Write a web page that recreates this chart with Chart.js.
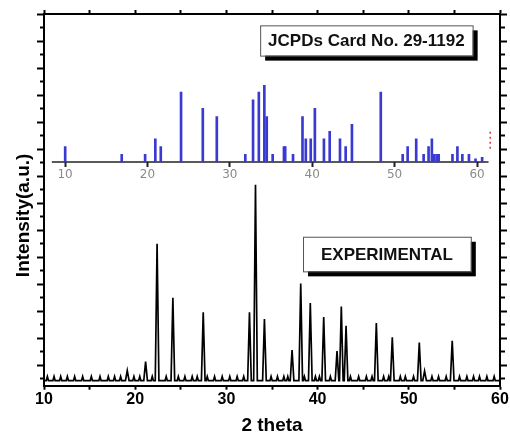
<!DOCTYPE html>
<html>
<head>
<meta charset="utf-8">
<script src="https://cdn.jsdelivr.net/npm/chart.js@4.4.1/dist/chart.umd.min.js"></script>
<style>
  body { margin: 0; background: #fff; }
</style>
</head>
<body>
<canvas id="xrd" width="510" height="434"></canvas>
<script>
// experimental pattern: peak positions (2 theta) and peak tops (a.u.)
const expPeakPos = [19.13, 21.14, 22.40, 24.13, 27.46, 32.53, 33.19, 34.17, 37.20, 38.15,
  39.20, 40.67, 42.13, 42.60, 43.12, 46.44, 48.19, 51.15, 51.73, 54.76];
const expPeakHeight = [5.6, 8.9, 52.5, 32.5, 27.2, 27.2, 74.3, 24.7, 13.2, 37.8,
  30.6, 25.4, 12.8, 29.3, 22.2, 23.2, 17.9, 16.0, 5.4, 16.6];
// little spikes sitting on the baseline
const noisePos = [10.37, 11.10, 11.83, 12.56, 13.36, 14.24, 15.19, 16.14, 17.05, 17.74,
  18.40, 19.86, 20.50, 21.87, 23.40, 24.73, 25.45, 26.25, 26.80, 27.90, 28.70, 29.54,
  30.37, 31.18, 31.90, 34.90, 35.60, 36.30, 36.73, 38.55, 39.76, 40.20, 41.40, 43.60,
  44.50, 45.35, 45.97, 47.24, 47.80, 49.07, 49.62, 50.52, 52.54, 53.26, 54.10, 55.56,
  56.37, 57.10, 57.75, 58.56, 59.36];
const noiseHeight = 3.4;
const baseLevel = 1.9;

// JCPDS card 29-1192 lines (2 theta, relative intensity %)
const cardPos = [9.90, 16.76, 19.60, 20.84, 21.50, 23.96, 26.60, 28.30, 31.76, 32.70,
  33.40, 34.07, 34.36, 35.08, 36.45, 36.60, 37.55, 38.70, 39.10, 39.70, 40.20, 41.30,
  42.00, 43.25, 43.94, 44.70, 48.20, 50.86, 51.46, 52.50, 53.40, 54.00, 54.40, 54.70,
  55.00, 55.23, 56.90, 57.50, 58.10, 58.90, 59.70, 60.50];
const cardIntensity = [20, 10, 10, 30, 20, 91, 70, 59, 10, 81,
  91, 100, 59, 10, 20, 20, 10, 59, 30, 30, 70, 30,
  40, 30, 20, 49, 91, 10, 20, 30, 10, 20, 30, 10,
  10, 10, 10, 20, 10, 10, 4, 6];
const cardAxisRange = [8.4, 61.4];
const redMarkPos = 61.6;
const redMarkRange = [17, 42];

const cardLabel = 'JCPDs Card No. 29-1192';
const expLabel = 'EXPERIMENTAL';
const xTitle = '2 theta';
const yTitle = 'Intensity(a.u.)';

const FONT = '"Liberation Sans", Arial, sans-serif';

// peak profile: narrow triangle on the baseline
const features = expPeakPos.map((x, i) => ({x: x, h: expPeakHeight[i], w: 0.2}))
  .concat(noisePos.map(x => ({x: x, h: noiseHeight, w: 0.12})))
  .sort((a, b) => a.x - b.x);
const expPoints = [{x: 10, y: baseLevel}];
features.forEach(f => {
  expPoints.push({x: f.x - f.w, y: baseLevel}, {x: f.x, y: f.h}, {x: f.x + f.w, y: baseLevel});
});
expPoints.push({x: 60, y: baseLevel});

function frameTicks(axis) {
  const t = [];
  for (let v = 2.5; v <= 137.5; v += 5) t.push({value: v});
  axis.ticks = t;
}
function isMajor(ctx) {
  return ctx.tick && Math.round(ctx.tick.value - 7.5) % 10 === 0;
}

const frameBorder = {width: 2, color: '#000'};

const labelBoxes = {
  id: 'labelBoxes',
  afterDatasetsDraw(chart) {
    const {ctx, scales: {x, y}} = chart;
    const boxes = [
      {text: cardLabel, x0: 33.7, x1: 57.0, y0: 133.3, y1: 122.1},
      {text: expLabel, x0: 38.4, x1: 56.8, y0: 55.1, y1: 42.3}
    ];
    ctx.save();
    boxes.forEach(b => {
      const l = x.getPixelForValue(b.x0), r = x.getPixelForValue(b.x1);
      const t = y.getPixelForValue(b.y0), btm = y.getPixelForValue(b.y1);
      ctx.fillStyle = '#000';
      ctx.fillRect(l + 5, t + 5, r - l, btm - t);
      ctx.fillStyle = '#fff';
      ctx.fillRect(l, t, r - l, btm - t);
      ctx.strokeStyle = '#555';
      ctx.lineWidth = 1;
      ctx.strokeRect(l + 0.5, t + 0.5, r - l, btm - t);
      ctx.fillStyle = '#111';
      ctx.font = 'bold 17px ' + FONT;
      ctx.textAlign = 'center';
      ctx.textBaseline = 'middle';
      ctx.fillText(b.text, (l + r) / 2, (t + btm) / 2 + 1);
    });
    // y axis title
    ctx.translate(chart.chartArea.left - 20, y.getPixelForValue(63));
    ctx.rotate(-Math.PI / 2);
    ctx.font = 'bold 19px ' + FONT;
    ctx.fillStyle = '#000';
    ctx.textAlign = 'center';
    ctx.textBaseline = 'middle';
    ctx.fillText(yTitle, 0, 0);
    ctx.restore();
  }
};

new Chart(document.getElementById('xrd'), {
  type: 'line',
  data: {
    datasets: [
      {
        type: 'line',
        label: expLabel,
        data: expPoints,
        xAxisID: 'x',
        yAxisID: 'y',
        borderColor: '#000',
        borderWidth: 1.7,
        pointRadius: 0,
        tension: 0
      },
      {
        type: 'bar',
        label: cardLabel,
        data: cardPos.map((p, i) => ({x: p, y: cardIntensity[i]})),
        xAxisID: 'x2',
        yAxisID: 'y2',
        backgroundColor: '#3a3ad2',
        borderWidth: 0,
        barThickness: 2
      },
      {
        type: 'line',
        label: 'card axis',
        data: cardAxisRange.map(p => ({x: p, y: 0})),
        xAxisID: 'x2',
        yAxisID: 'y2',
        borderColor: '#222',
        borderWidth: 1.5,
        pointRadius: 0
      },
      {
        type: 'line',
        label: 'mark',
        data: redMarkRange.map(v => ({x: redMarkPos, y: v})),
        xAxisID: 'x2',
        yAxisID: 'y2',
        borderColor: '#d23c3c',
        borderWidth: 1.5,
        borderDash: [2, 3],
        pointRadius: 0
      }
    ]
  },
  options: {
    responsive: false,
    animation: false,
    layout: {padding: {left: 37, right: 3, top: 10, bottom: 0}},
    plugins: {
      legend: {display: false},
      tooltip: {enabled: false}
    },
    scales: {
      x: {
        type: 'linear',
        position: 'bottom',
        min: 10,
        max: 60,
        ticks: {
          stepSize: 5,
          autoSkip: false,
          maxRotation: 0,
          padding: 0,
          color: '#000',
          font: {family: FONT, size: 16, weight: 'bold'},
          callback: v => (v % 10 === 0 ? v : '')
        },
        grid: {drawOnChartArea: false, tickLength: 4, tickWidth: 2, tickColor: '#000'},
        border: frameBorder,
        title: {
          display: true,
          text: xTitle,
          color: '#000',
          font: {family: FONT, size: 19, weight: 'bold', lineHeight: 0.9},
          padding: {top: 8, bottom: 0}
        }
      },
      xTop: {
        type: 'linear',
        position: 'top',
        min: 10,
        max: 60,
        ticks: {display: false, stepSize: 5},
        grid: {drawOnChartArea: false, tickLength: 4, tickWidth: 2, tickColor: '#000'},
        border: frameBorder
      },
      y: {
        position: 'left',
        min: 0,
        max: 137.5,
        afterBuildTicks: frameTicks,
        ticks: {display: false},
        grid: {
          drawOnChartArea: false, tickLength: 7, tickWidth: 2, tickColor: '#000',
          tickBorderDash: ctx => (isMajor(ctx) ? [] : [0, 3, 4, 100])
        },
        border: frameBorder
      },
      yR: {
        position: 'right',
        min: 0,
        max: 137.5,
        afterBuildTicks: frameTicks,
        ticks: {display: false},
        grid: {
          drawOnChartArea: false, tickLength: 7, tickWidth: 2, tickColor: '#000',
          tickBorderDash: ctx => (isMajor(ctx) ? [] : [4, 100])
        },
        border: frameBorder
      },
      x2: {
        type: 'linear',
        position: {y2: 0},
        offset: false,
        min: 7.45,
        max: 62.79,
        ticks: {
          stepSize: 10,
          includeBounds: false,
          maxRotation: 0,
          padding: 1,
          color: '#8a8a8a',
          font: {family: '"DejaVu Sans", sans-serif', size: 12}
        },
        grid: {drawOnChartArea: false, offset: false, tickLength: 5, tickWidth: 2, tickColor: '#222'},
        border: {display: false}
      },
      y2: {
        display: false,
        min: -291.9,
        max: 192.9
      }
    }
  },
  plugins: [labelBoxes]
});
</script>
</body>
</html>
